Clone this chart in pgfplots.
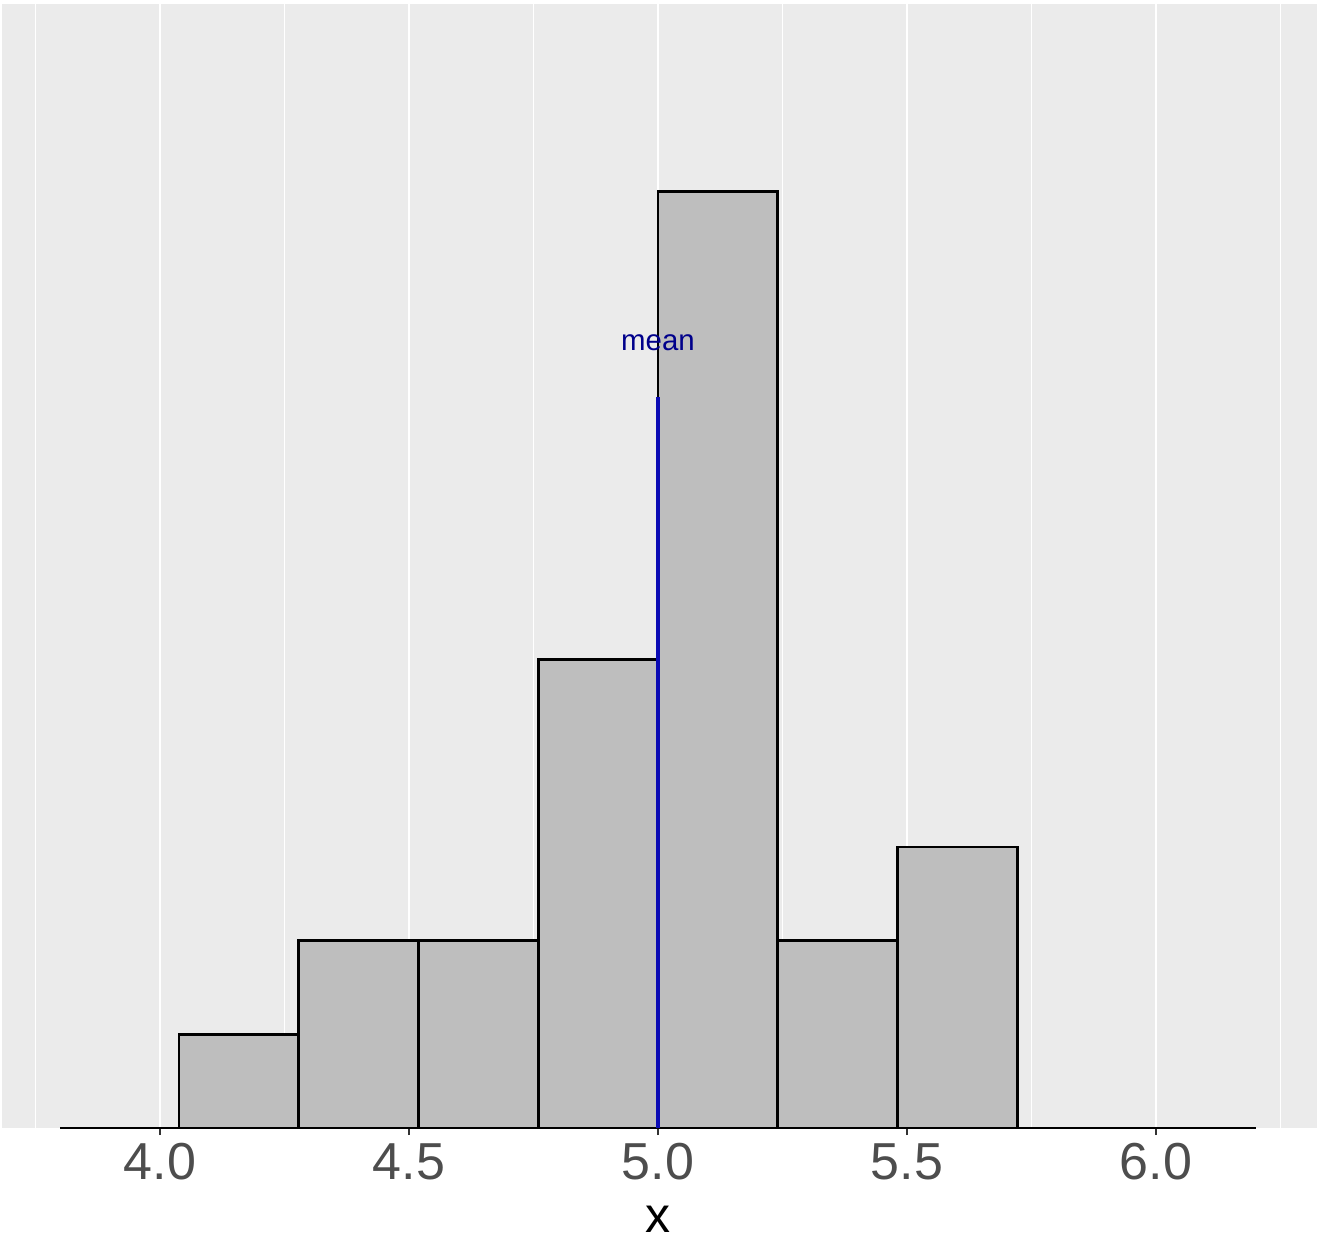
\documentclass[border=0pt]{standalone}
\usepackage{pgfplots}
\pgfplotsset{compat=1.18}
\usepackage{fontspec}
\setmainfont{Liberation Sans}
\definecolor{panel}{HTML}{EBEBEB}
\definecolor{barfill}{HTML}{BEBEBE}
\definecolor{ticklab}{HTML}{4D4D4D}
\definecolor{tickc}{HTML}{333333}
\definecolor{meanline}{RGB}{10,10,180}
\definecolor{meantext}{HTML}{00008B}
\begin{document}
\begin{tikzpicture}
\useasboundingbox (-1pt,-54.5pt) rectangle (657.5pt,564pt);
\begin{axis}[
  at={(0pt,0pt)}, anchor=south west,
  scale only axis, width=657.5pt, height=562pt,
  xmin=3.6827, xmax=6.3233, ymin=0, ymax=12,
  clip=false,
  axis background/.style={fill=panel},
  axis line style={draw=none},
  xtick={4,4.5,5,5.5,6},
  xticklabels={4.0,4.5,5.0,5.5,6.0},
  minor xtick={3.75,4.25,4.75,5.25,5.75,6.25},
  ytick=\empty,
  xmajorgrids, xminorgrids,
  major grid style={white, line width=1.3pt},
  minor grid style={white, line width=0.65pt},
  tick align=outside, xtick pos=left,
  major tick length=3.5pt, minor tick length=0pt,
  major tick style={tickc, line width=1.1pt},
  xticklabel style={font=\fontsize{26}{30}\selectfont, text=ticklab, anchor=base, inner sep=0pt, yshift=-22pt},
  xlabel={x},
  xlabel style={font=\fontsize{25}{30}\selectfont, text=black, at={(axis description cs:0.4989,0)}, anchor=base, inner sep=0pt, yshift=-52pt},
]
\addplot[black, line width=0.7pt] coordinates {(3.8,0) (6.2,0)};
\addplot[ybar interval, fill=barfill, draw=black, line width=1.35pt] coordinates {(4.038,1) (4.2785,2) (4.519,2) (4.7595,5) (5.0,10) (5.2405,2) (5.481,3) (5.7215,3)};
\addplot[meanline, line width=1.8pt] coordinates {(5,0) (5,7.8)};
\node[text=meantext, font=\fontsize{14.7}{18}\selectfont] at (axis cs:5,8.38) {mean};
\end{axis}
\end{tikzpicture}
\end{document}
